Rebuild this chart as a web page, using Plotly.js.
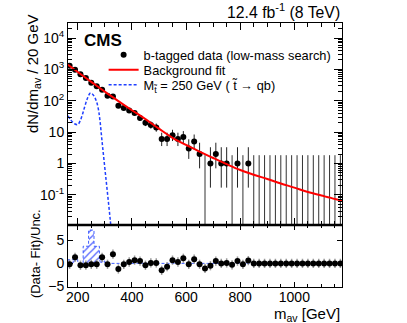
<!DOCTYPE html>
<html>
<head>
<meta charset="utf-8">
<script src="https://cdn.plot.ly/plotly-3.0.1.min.js"></script>
<style>
html,body{margin:0;padding:0;background:#fff;}
#plot{width:407px;height:323px;}
</style>
</head>
<body>
<div id="plot"></div>
<script>
// bin centres, 20 GeV bins
const mav = [170,190,210,230,250,270,290,310,330,350,370,390,410,430,450,470,490,510,530,550,
             570,590,610,630,650,670,690,710,730,750,770,790,810,830,850,870,890,910,930,950,
             970,990,1010,1030,1050,1070,1090,1110,1130,1150,1170];
// b-tagged data, events per bin
const counts = [1320,980,700,535,375,290,225,145,138,69,59,49,41,28,20,17,14,6,6,8,
                6,7,3,5,2,0,1,2,1,1,0,1,0,1,0,0,0,0,0,0,
                0,0,0,0,0,0,0,0,0,0,0];
const errHi = [36,31,26,23,19,17,15,12,12,9,8,8,7,6,5.5,5.2,4.8,3.6,3.6,3.9,
               3.6,3.8,2.9,3.4,2.6,1.84,2.3,2.6,2.3,2.3,1.84,2.3,1.84,2.3,1.84,1.84,1.84,1.84,1.84,1.84,
               1.84,1.84,1.84,1.84,1.84,1.84,1.84,1.84,1.84,1.84,1.84];
const errLo = [36,31,26,23,19,17,15,12,12,8,8,7,6,5,4.4,4.1,3.7,2.4,2.4,2.8,
               2.4,2.6,1.6,2.2,1.3,0,0.83,1.3,0.83,0.83,0,0.83,0,0.83,0,0,0,0,0,0,
               0,0,0,0,0,0,0,0,0,0,0];
// (Data - Fit)/Unc.
const pulls = [-0.2,1.3,-0.4,-0.4,-0.2,-0.2,1.3,-0.2,2.0,-1.2,-0.2,0.3,0.7,0.5,-0.4,0.1,0.1,-1.5,-0.7,0.7,
               0.3,1.1,-0.2,0.9,-0.2,-1.1,-0.5,0.5,0,0.1,-0.3,0.5,-0.2,0.6,0,0,0,0,0,0,
               0,0,0,0,0,0,0,0,0,0,0];
// signal / unc. in the ratio panel
const sigPull = [0.8,0.8,0,3.7,7.2,3.7,0.5,0,0,0,0,0,0,0,0,0,0,0,0,0,
                 0,0,0,0,0,0,0,0,0,0,0,0,0,0,0,0,0,0,0,0,
                 0,0,0,0,0,0,0,0,0,0,0];

// background fit
const fitMass = [164,200,250,300,350,400,450,500,550,600,650,700,750,800,850,900,950,1000,1050,1100,1150,1176];
const fitVal  = [1410,830,400,195,98,50,26,12.9,6.6,3.9,2.4,1.5,0.95,0.62,0.44,0.32,0.23,0.17,0.123,0.095,0.074,0.066];

// stop signal, M = 250 GeV
const sigMass = [164,175,188,200,210,218,226,236,247,258,269,276,281,290,300,310,320,328];
const sigVal  = [33,24,18.5,17.5,24,38,66,120,178,150,96,55,28,4.9,0.72,0.11,0.016,0.003];

const yTickVals = [0.1,1,10,100,1000,10000];
const yTickText = ['10<sup>-1</sup>','1','10','10<sup>2</sup>','10<sup>3</sup>','10<sup>4</sup>'];
const xTickVals = [200,400,600,800,1000];

const binW = 20;
const font = 'Liberation Sans, Arial, Helvetica, sans-serif';

// split filled and empty bins
let px = [], py = [], pHi = [], pLo = [];
let ex = [], ey = [];
for (let i = 0; i < mav.length; i++) {
  if (counts[i] > 0) {
    px.push(mav[i]); py.push(counts[i]); pHi.push(errHi[i]); pLo.push(errLo[i]);
  } else {
    ex.push(mav[i], mav[i], null);
    ey.push(0.001, errHi[i], null);
  }
}

let minorY = [];
for (let d = -2; d <= 4; d++) {
  for (let k = 2; k <= 9; k++) minorY.push(k * Math.pow(10, d));
}

// step outline of the signal in the ratio panel
let stepX = [], stepY = [];
for (let i = 0; i < mav.length; i++) {
  stepX.push(mav[i] - binW / 2); stepY.push(sigPull[i]);
}
stepX.push(mav[mav.length - 1] + binW / 2); stepY.push(sigPull[sigPull.length - 1]);

const dataTrace = {
  x: px, y: py, type: 'scatter', mode: 'markers', name: 'b-tagged data (low-mass search)',
  legend: 'legend',
  marker: {color: 'black', size: 6},
  error_y: {type: 'data', symmetric: false, array: pHi, arrayminus: pLo, color: '#222', thickness: 1, width: 0},
  xaxis: 'x', yaxis: 'y'
};
const emptyTrace = {
  x: ex, y: ey, type: 'scatter', mode: 'lines', showlegend: false, hoverinfo: 'skip',
  line: {color: '#333', width: 1}, xaxis: 'x', yaxis: 'y'
};
const fitTrace = {
  x: fitMass, y: fitVal, type: 'scatter', mode: 'lines', name: 'Background fit',
  legend: 'legend2',
  line: {color: '#ff0000', width: 2, shape: 'spline'}, xaxis: 'x', yaxis: 'y'
};
const sigTrace = {
  x: sigMass, y: sigVal, type: 'scatter', mode: 'lines',
  name: 'M<sub>t\u0303</sub> = 250 GeV ( t\u0303 \u2192 qb)',
  legend: 'legend3',
  line: {color: '#1f3fff', width: 1.5, dash: '3px,2px', shape: 'spline'}, xaxis: 'x', yaxis: 'y'
};

const sigBars = {
  x: mav, y: sigPull, type: 'bar', width: binW, showlegend: false, hoverinfo: 'skip',
  marker: {color: 'rgba(0,0,0,0)', line: {width: 0},
           pattern: {shape: '/', fgcolor: '#5060ff', bgcolor: 'rgba(0,0,0,0)', size: 5, solidity: 0.25}},
  xaxis: 'x2', yaxis: 'y2'
};
const sigStep = {
  x: stepX, y: stepY, type: 'scatter', mode: 'lines', showlegend: false, hoverinfo: 'skip',
  line: {color: '#3f5fff', width: 1, dash: '3px,2px', shape: 'hv'}, xaxis: 'x2', yaxis: 'y2'
};
const pullTrace = {
  x: mav, y: pulls, type: 'scatter', mode: 'markers', showlegend: false,
  marker: {color: 'black', size: 6},
  error_y: {type: 'constant', value: 1, color: '#999', thickness: 1.5, width: 0},
  xaxis: 'x2', yaxis: 'y2'
};

const split = 0.235;
const axBase = {
  showline: true, linecolor: 'black', linewidth: 1, mirror: 'ticks',
  ticks: 'inside', tickcolor: 'black', showgrid: false, zeroline: false
};
const legBase = {x: 0.13, xanchor: 'left', yanchor: 'middle', bgcolor: 'rgba(0,0,0,0)',
                 font: {size: 12.8}, itemwidth: 30, tracegroupgap: 0};

const layout = {
  width: 407, height: 323,
  margin: {l: 68, r: 65, t: 23, b: 36},
  paper_bgcolor: 'white', plot_bgcolor: 'white',
  font: {family: font, color: 'black', size: 14},
  showlegend: true,
  legend: Object.assign({}, legBase, {y: 0.879}),
  legend2: Object.assign({}, legBase, {y: 0.822}),
  legend3: Object.assign({}, legBase, {y: 0.765}),
  bargap: 0,
  xaxis: Object.assign({}, axBase, {
    domain: [0, 1], anchor: 'y', range: [164, 1176], showticklabels: false,
    tickmode: 'array', tickvals: xTickVals, ticklen: 7,
    minor: {ticks: 'inside', ticklen: 3.5, dtick: 50, tick0: 0, tickcolor: 'black'}
  }),
  yaxis: Object.assign({}, axBase, {
    domain: [split, 1], anchor: 'x', type: 'log', range: [-1.96, 4.48],
    tickmode: 'array', tickvals: yTickVals, ticktext: yTickText, ticklen: 8,
    minor: {ticks: 'inside', ticklen: 4, tickmode: 'array', tickvals: minorY, tickcolor: 'black'}
  }),
  xaxis2: Object.assign({}, axBase, {
    domain: [0, 1], anchor: 'y2', matches: 'x', range: [164, 1176],
    tickmode: 'array', tickvals: xTickVals, ticklen: 5, tickfont: {size: 14},
    ticklabelstandoff: -3,
    minor: {ticks: 'inside', ticklen: 3, dtick: 50, tick0: 0, tickcolor: 'black'}
  }),
  yaxis2: Object.assign({}, axBase, {
    domain: [0, split], anchor: 'x2', range: [-5.1, 8.3],
    tickmode: 'array', tickvals: [-5, 0, 5], ticklen: 5
  }),
  shapes: [
    {type: 'line', xref: 'paper', yref: 'paper', x0: 0, x1: 1, y0: split, y1: split,
     line: {color: 'black', width: 2.5}}
  ],
  annotations: [
    {text: '<b>CMS</b>', xref: 'paper', yref: 'paper', x: 0.05, y: 0.932, xanchor: 'left', yanchor: 'middle',
     showarrow: false, font: {size: 17}},
    {text: '12.4 fb<sup>-1</sup> (8 TeV)', xref: 'paper', yref: 'paper', x: 1, y: 1.045,
     xanchor: 'right', yanchor: 'middle', showarrow: false, font: {size: 15.8}},
    {text: 'dN/dm<sub>av</sub> / 20 GeV', xref: 'paper', yref: 'paper', x: -0.128, y: 0.81,
     xanchor: 'center', yanchor: 'middle', textangle: -90, showarrow: false, font: {size: 15}},
    {text: '(Data- Fit)/Unc.', xref: 'paper', yref: 'paper', x: -0.12, y: 0.125,
     xanchor: 'center', yanchor: 'middle', textangle: -90, showarrow: false, font: {size: 13}},
    {text: 'm<sub>av</sub> [GeV]', xref: 'paper', yref: 'paper', x: 1, y: -0.105,
     xanchor: 'right', yanchor: 'middle', showarrow: false, font: {size: 15}}
  ]
};

Plotly.newPlot('plot', [emptyTrace, dataTrace, fitTrace, sigTrace, sigBars, sigStep, pullTrace], layout,
  {staticPlot: true, displayModeBar: false});
</script>
</body>
</html>
